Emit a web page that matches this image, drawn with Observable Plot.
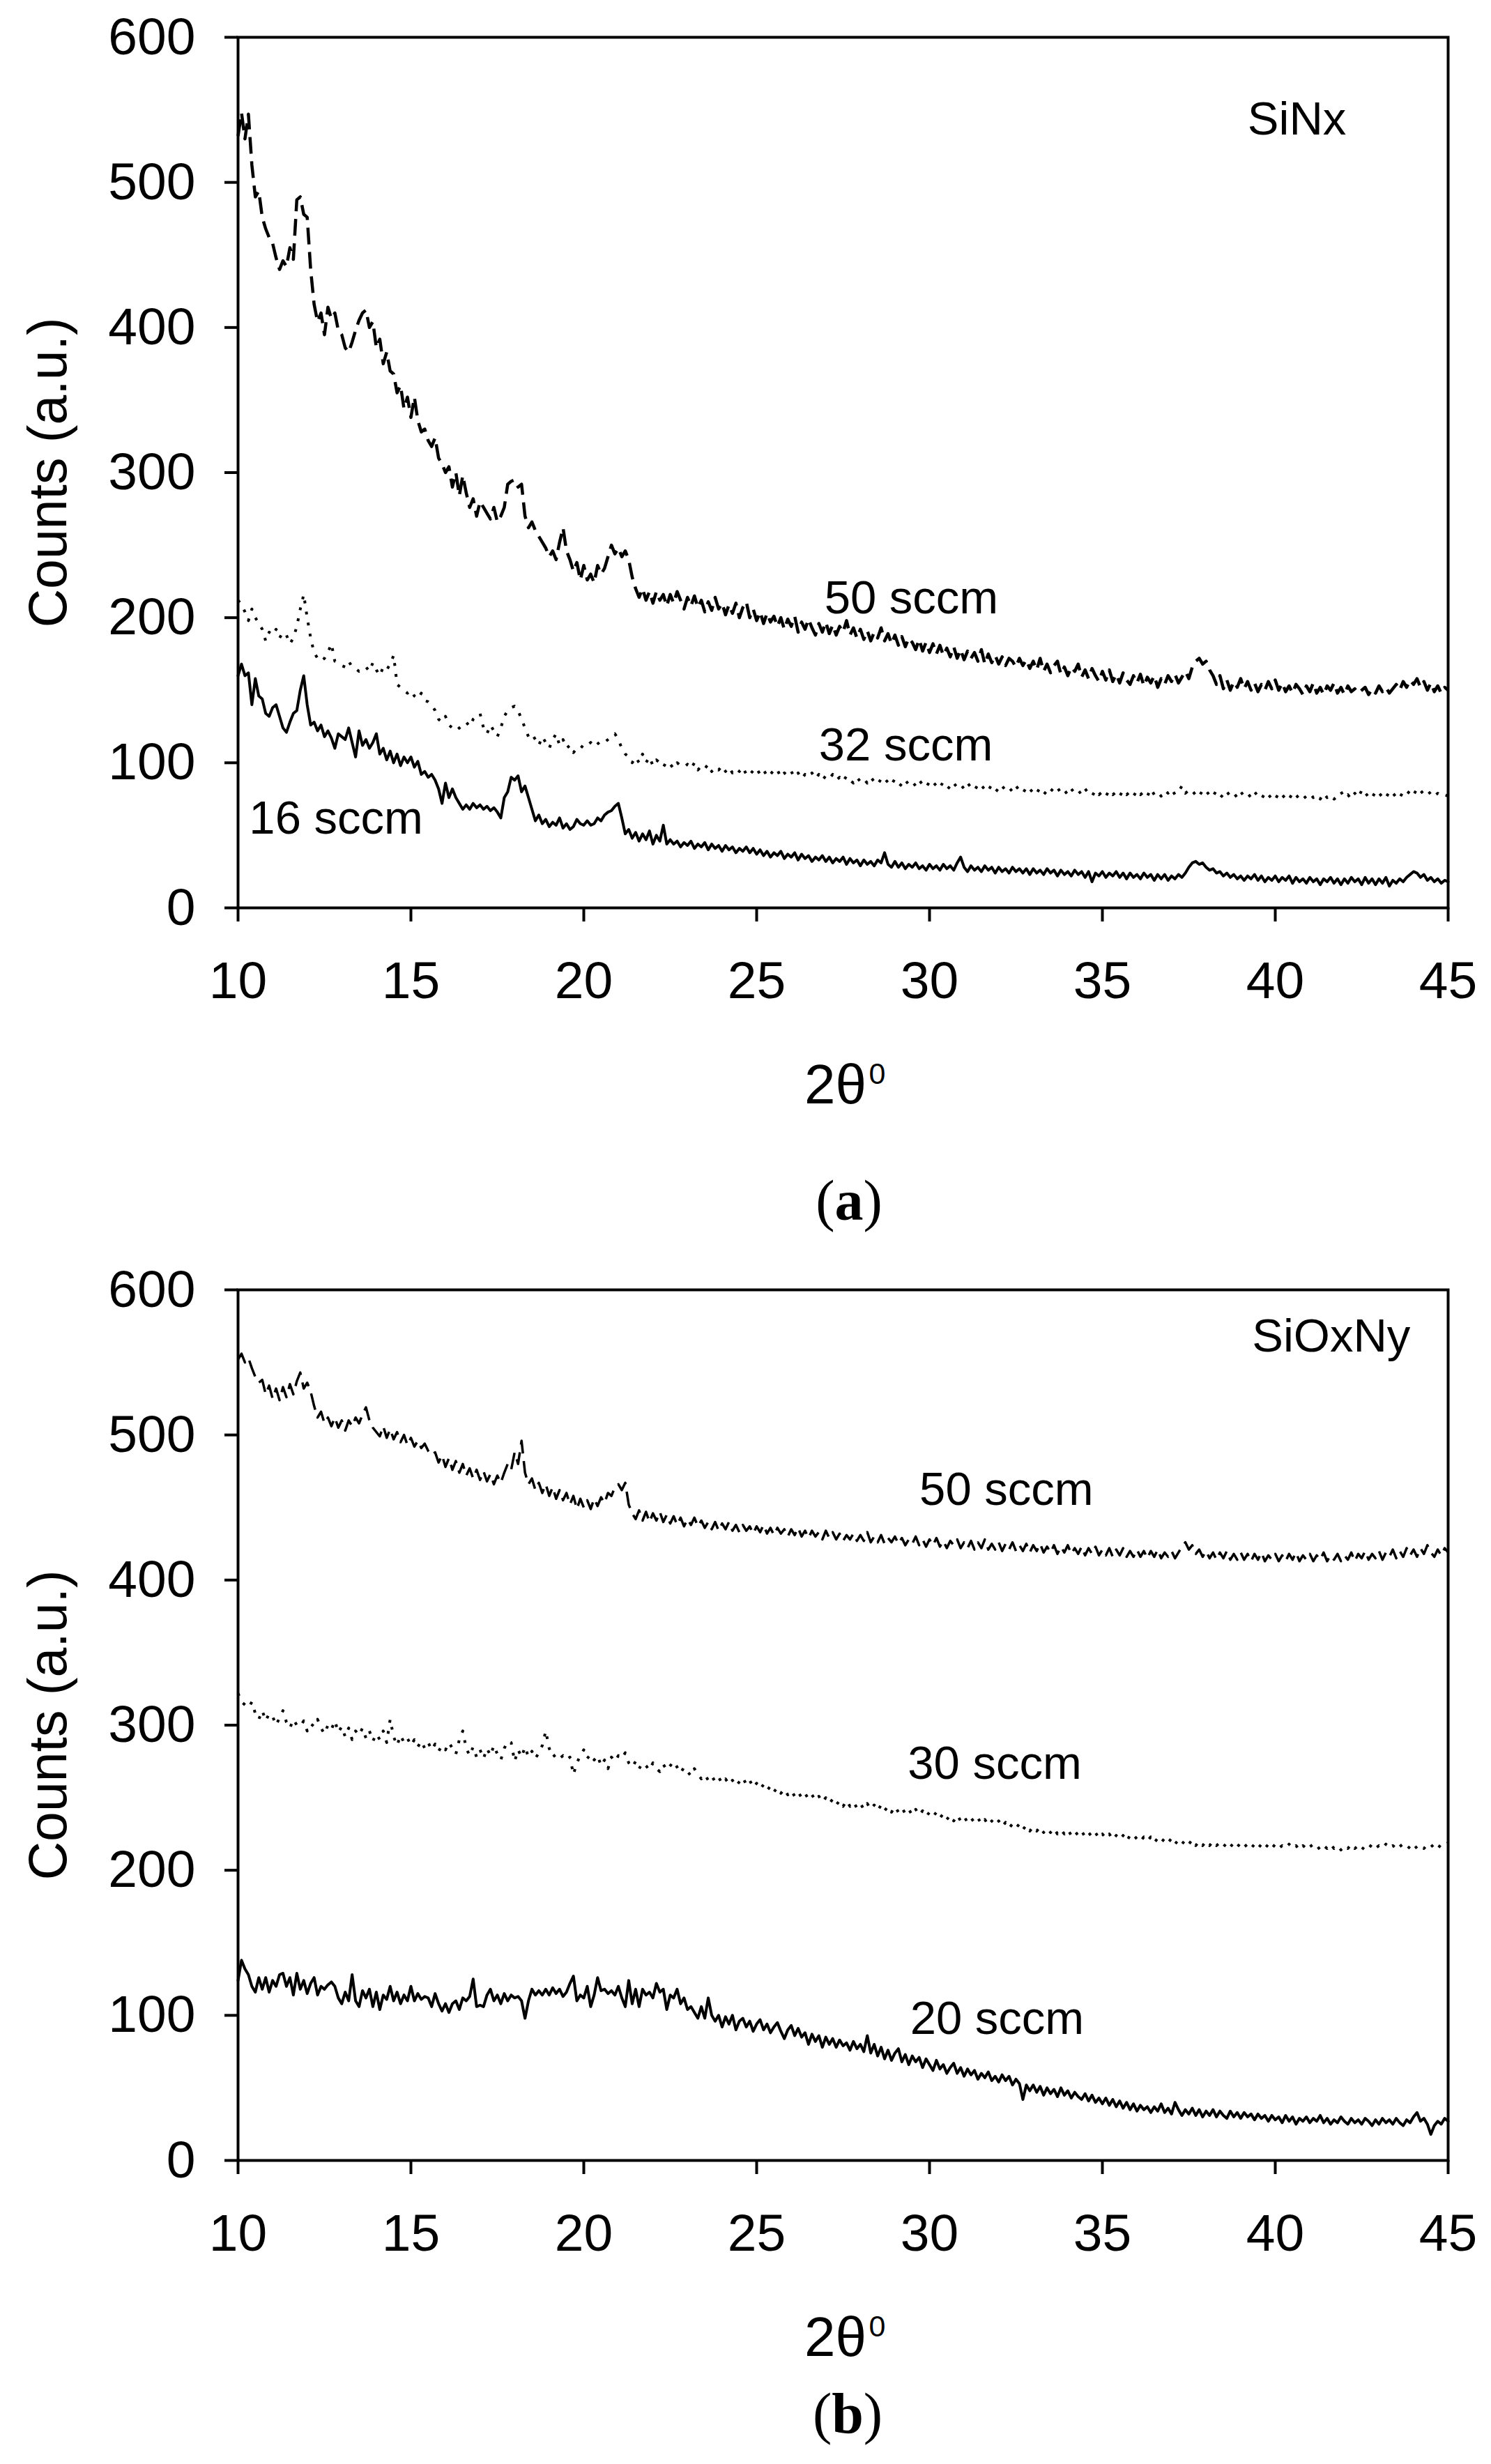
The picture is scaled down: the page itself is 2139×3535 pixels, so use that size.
<!DOCTYPE html>
<html><head><meta charset="utf-8">
<script src="https://cdn.jsdelivr.net/npm/d3@7"></script>
<script src="https://cdn.jsdelivr.net/npm/@observablehq/plot@0.6"></script>
<style>
body{margin:0;background:#fff;}
#page{position:relative;width:2139px;height:3535px;background:#fff;overflow:hidden;}
.panel{position:absolute;left:0;width:2139px;}
.cap{position:absolute;width:400px;text-align:center;font-family:"Liberation Serif","Times New Roman",serif;font-size:82px;line-height:82px;color:#000;}
</style></head>
<body><div id="page"><div id="pa" class="panel" style="top:0px"></div><div id="pb" class="panel" style="top:1797px"></div>
<div class="cap" style="left:1018px;top:1682px">(<b>a</b>)</div>
<div class="cap" style="left:1016px;top:3422px">(<b>b</b>)</div></div>
<script>
// 2θ grid: 10.0 .. 45.0 in 0.1 steps
const xStart = 10, xStep = 0.1;
const xTicks = [10, 15, 20, 25, 30, 35, 40, 45];
const yTicks = [0, 100, 200, 300, 400, 500, 600];

// Panel (a) SiNx
const a50 = [
532,548,530,547,512,490,494,476,468,462,
458,448,440,446,442,455,447,488,490,478,
476,440,416,404,410,395,414,406,410,398,
395,386,383,390,398,405,410,412,400,404,
386,392,375,383,370,368,355,360,344,352,
338,352,336,328,330,322,318,324,310,306,
300,304,290,300,284,298,286,276,282,270,
280,276,272,268,276,266,270,276,292,294,
295,290,292,270,262,266,260,256,252,248,
242,246,240,252,262,246,240,232,238,226,
236,226,230,224,236,230,234,242,250,244,
248,242,246,240,228,220,214,220,212,218,
210,218,212,216,208,216,210,218,212,206,
214,208,215,207,212,204,211,205,214,206,
210,202,209,203,210,200,207,211,200,206,
198,204,196,203,197,201,194,200,192,199,
194,201,190,197,192,199,193,188,196,190,
197,189,195,188,194,190,198,188,193,186,
192,185,191,184,190,186,193,184,189,182,
188,181,187,180,186,183,178,185,177,183,
176,182,175,181,174,179,173,180,172,178,
171,177,172,176,170,178,168,175,169,174,
168,173,167,172,170,166,172,167,171,165,
170,164,172,163,168,162,167,170,161,166,
160,166,163,168,159,164,158,165,160,156,
163,157,164,156,161,155,162,157,154,160,
155,161,153,159,155,160,152,158,154,160,
156,161,155,159,163,158,166,170,172,168,
170,164,160,154,160,151,157,150,156,152,
158,151,156,150,155,149,154,150,156,151,
157,150,155,149,153,148,154,151,147,153,
149,155,148,152,147,153,150,155,148,152,
147,153,149,151,148,150,152,147,151,148,
153,149,152,148,151,154,150,156,152,157,
154,158,152,156,150,155,149,153,148,152,
150];
const a32 = [
212,209,204,198,206,200,196,192,184,190,
188,192,186,190,188,182,186,194,206,216,
200,186,176,172,170,172,176,182,170,169,
167,166,170,166,165,163,164,166,163,169,
164,160,166,164,168,174,154,152,150,148,
150,146,144,148,143,142,140,136,130,128,
132,126,124,122,124,126,128,125,130,132,
134,124,120,126,122,118,124,132,136,138,
139,136,130,124,118,120,116,112,118,114,
110,116,120,112,116,110,112,107,110,112,
110,112,114,111,113,115,114,116,118,120,
116,110,106,104,100,104,100,106,100,104,
98,102,100,97,101,99,96,100,98,97,
99,96,100,95,98,96,99,94,97,95,
98,94,97,93,96,94,97,92,95,93,
96,92,95,91,94,92,95,90,93,91,
94,90,93,89,92,90,93,89,92,88,
91,89,92,88,90,87,91,88,86,90,
87,89,86,90,87,85,89,86,88,85,
89,86,84,88,85,87,84,88,85,83,
87,84,86,83,87,84,82,86,83,85,
82,86,83,81,85,82,84,81,85,82,
80,84,81,83,80,84,81,79,83,80,
82,79,83,80,78,82,80,83,79,81,
78,82,79,81,78,82,79,77,81,78,
80,77,81,78,80,77,81,78,80,77,
81,78,80,77,82,78,80,77,81,79,
82,78,80,84,79,81,78,80,77,81,
78,80,77,81,78,76,80,77,79,76,
80,77,79,76,80,77,75,79,76,78,
75,79,76,78,75,79,76,78,75,77,
79,76,78,75,79,76,78,75,77,80,
76,78,75,79,76,81,77,79,76,80,
77,79,76,80,77,79,76,80,78,81,
78,82,79,81,78,80,77,79,77,78,
77];
const a16 = [
160,168,160,162,140,158,146,144,134,132,
138,140,132,124,121,128,134,136,150,160,
140,126,128,122,126,118,122,117,110,120,
118,116,124,114,104,122,112,116,110,114,
120,106,110,102,108,100,106,98,104,100,
104,97,101,92,94,90,92,88,82,72,
86,76,82,76,72,68,71,68,72,69,
71,68,70,67,69,66,62,76,80,90,
88,91,80,84,76,68,60,64,58,61,
56,59,57,62,55,58,54,56,61,58,
57,60,57,58,62,60,64,66,67,70,
72,62,51,54,48,52,46,51,47,53,
44,50,46,57,44,47,44,46,42,45,
43,46,41,44,42,45,40,44,41,43,
39,43,40,42,38,41,39,42,38,41,
37,40,36,39,35,38,36,39,34,37,
35,38,33,37,34,36,32,35,33,36,
32,35,31,34,32,35,30,34,31,33,
29,33,30,32,29,33,31,38,30,28,
32,28,31,27,30,28,31,27,29,26,
30,27,29,26,30,27,29,26,31,35,
28,25,29,26,28,25,29,26,28,24,
28,25,27,24,28,25,27,24,27,23,
27,24,26,23,27,24,26,22,26,23,
25,22,26,23,25,21,25,18,24,22,
25,21,24,22,25,21,24,20,24,21,
23,20,24,21,23,19,23,20,23,19,
22,20,23,21,24,28,31,32,30,31,
28,26,27,24,25,22,24,21,23,20,
22,19,22,20,23,19,22,18,21,19,
22,18,21,19,22,17,21,18,20,17,
21,18,20,16,20,18,21,17,20,16,
20,17,21,18,20,16,21,17,20,16,
20,17,21,15,19,17,20,18,21,23,
25,24,21,23,19,21,18,20,17,19,
18];

// Panel (b) SiOxNy
const b50 = [
552,556,550,553,546,540,536,538,528,534,
525,532,524,533,526,535,528,537,543,532,
536,530,520,512,516,508,512,506,512,505,
510,503,510,506,512,508,514,519,510,505,
502,499,506,498,504,497,502,495,500,493,
498,492,496,491,494,489,486,488,481,486,
478,484,476,482,474,480,472,477,470,476,
469,475,468,473,466,472,467,474,480,476,
488,480,496,474,466,470,462,467,460,466,
458,464,456,462,455,460,452,458,449,456,
450,455,449,456,451,457,453,460,458,464,
466,462,467,452,446,442,448,441,447,440,
446,441,447,440,445,439,444,438,443,437,
442,438,443,437,441,436,440,435,440,434,
439,435,440,434,438,433,438,434,437,432,
437,433,438,432,436,431,436,432,435,430,
435,431,436,430,434,429,434,430,433,428,
434,429,433,428,432,427,431,428,432,427,
431,427,433,426,430,426,431,425,429,426,
430,425,429,424,428,425,430,424,428,423,
428,424,429,423,427,422,427,424,428,422,
426,422,427,421,426,422,428,421,425,421,
426,420,425,421,426,420,424,420,425,419,
424,420,425,419,423,419,424,418,423,419,
424,418,422,418,423,417,422,418,423,417,
421,417,422,416,421,417,422,416,420,416,
421,416,420,415,420,416,421,415,419,416,
420,415,419,423,426,421,424,418,421,416,
420,415,419,414,419,415,420,414,418,414,
419,414,418,413,418,414,419,413,417,414,
418,413,417,413,418,414,419,413,417,414,
418,413,417,414,419,413,417,414,418,413,
417,414,419,413,418,415,420,414,418,415,
420,414,419,416,421,415,420,416,422,417,
421,416,422,418,424,419,416,421,417,422,
419];
const b30 = [
322,316,314,312,316,308,304,310,303,308,
306,300,305,310,302,298,304,300,299,303,
296,301,299,304,298,294,300,297,303,295,
299,292,298,290,296,293,298,291,296,289,
294,290,296,288,304,292,286,293,288,291,
286,290,285,289,284,288,283,287,282,286,
283,288,284,280,290,296,284,279,285,278,
283,277,284,279,286,280,276,284,289,288,
275,283,278,285,278,282,277,281,286,296,
284,278,280,277,279,276,278,266,274,279,
283,277,280,276,279,272,276,270,278,275,
279,277,281,274,271,275,270,274,272,269,
274,270,268,273,269,272,275,271,267,271,
268,265,270,266,263,266,262,265,261,264,
260,263,259,262,258,261,264,259,262,257,
260,256,259,255,258,254,257,253,256,252,
255,251,254,250,253,249,252,248,251,247,
250,246,249,245,248,244,248,244,247,243,
246,242,246,242,245,241,245,241,244,240,
244,240,243,239,242,238,242,238,241,237,
240,237,240,236,239,235,238,234,238,234,
237,233,236,233,236,232,235,231,234,231,
234,230,233,229,232,229,232,228,231,227,
230,227,230,226,229,226,229,225,228,225,
228,224,227,224,227,223,226,223,226,222,
225,222,225,221,224,221,224,220,224,221,
223,220,223,220,223,219,222,219,222,219,
222,218,221,218,221,218,221,217,220,217,
220,217,220,217,219,216,219,216,219,216,
219,216,218,215,218,215,218,215,218,215,
218,215,217,215,218,215,217,214,217,215,
218,215,217,214,217,215,218,215,217,214,
217,215,218,215,217,214,217,215,218,215,
217,215,218,215,217,215,218,215,217,215,
218,215,217,215,218,216,218,215,218,217,
219];
const b20 = [
124,138,132,128,120,116,126,118,126,116,
124,120,128,129,120,126,114,129,118,124,
115,122,126,114,120,118,121,123,120,112,
108,116,110,128,110,106,117,112,118,106,
116,104,114,111,120,110,116,108,114,110,
120,110,115,111,113,112,106,115,108,103,
108,102,108,110,104,112,110,113,125,106,
107,106,114,118,110,114,108,115,110,114,
112,113,110,98,110,118,114,117,114,118,
114,119,115,118,113,116,122,127,110,114,
112,120,106,114,126,117,118,115,117,114,
120,112,106,124,108,118,106,118,114,116,
112,122,116,118,104,114,112,118,108,112,
104,106,102,98,106,98,112,100,96,100,
92,99,94,100,90,96,98,92,96,89,
94,97,90,94,88,92,95,89,84,90,
93,86,91,85,88,80,87,82,86,78,
85,80,84,78,83,79,81,76,82,77,
80,75,86,74,80,72,78,70,76,69,
74,77,68,73,66,72,68,71,64,70,
66,62,69,63,66,60,64,67,60,64,
58,63,59,62,56,60,57,61,55,58,
54,59,55,58,52,56,53,42,52,48,
52,47,51,45,50,46,49,44,50,45,
48,43,47,44,42,46,41,45,40,43,
39,43,38,42,37,41,36,40,35,39,
34,38,35,37,33,37,34,39,33,36,
32,40,35,31,35,32,36,31,35,30,
34,31,35,30,34,31,29,34,30,33,
29,33,30,32,28,32,29,31,27,31,
28,30,26,31,27,30,25,29,27,30,
26,29,27,31,26,29,25,28,26,30,
27,25,29,26,28,25,29,27,24,28,
25,29,26,28,25,29,26,24,28,26,
30,33,27,29,25,18,24,27,25,29,
27];

// annotations
const labelsA = [
  {x: 39.2, y: 533, text: "SiNx"},
  {x: 26.96, y: 203, text: "50 sccm"},
  {x: 26.8, y: 101.5, text: "32 sccm"},
  {x: 10.32, y: 51.4, text: "16 sccm"}
];
const labelsB = [
  {x: 39.33, y: 557.7, text: "SiOxNy"},
  {x: 29.71, y: 451.6, text: "50 sccm"},
  {x: 29.37, y: 262.8, text: "30 sccm"},
  {x: 29.44, y: 87, text: "20 sccm"}
];

const rows = (vals) => vals.map((y, i) => ({x: xStart + i * xStep, y}));

function panel(dash, dot, solid, labels, dashW) {
  return Plot.plot({
    width: 2139, height: 1620,
    marginTop: 53, marginBottom: 318, marginLeft: 341, marginRight: 62,
    x: {type: "linear", domain: [10, 45]},
    y: {type: "linear", domain: [0, 600]},
    style: {fontFamily: "'Liberation Sans', Arial, sans-serif", color: "#000", background: "transparent", overflow: "visible"},
    marks: [
      Plot.line(rows(dash), {x: "x", y: "y", stroke: "#000", strokeWidth: dashW, strokeDasharray: "24,11", strokeLinecap: "butt", strokeLinejoin: "round"}),
      Plot.line(rows(dot), {x: "x", y: "y", stroke: "#000", strokeWidth: 4, strokeDasharray: "4,12", strokeLinecap: "butt"}),
      Plot.line(rows(solid), {x: "x", y: "y", stroke: "#000", strokeWidth: 4}),
      Plot.frame({stroke: "#000", strokeWidth: 4}),
      Plot.axisX({ticks: xTicks, tickSize: 20, tickPadding: 56, fontSize: 75, strokeWidth: 4, label: null, tickFormat: d => String(d)}),
      Plot.axisY({ticks: yTicks, tickSize: 19, tickPadding: 42, fontSize: 75, strokeWidth: 4, label: null, tickFormat: d => String(d)}),
      Plot.text(labels, {x: "x", y: "y", text: "text", textAnchor: "start", lineAnchor: "bottom", fontSize: 67, fill: "#000"}),
      Plot.text(["Counts (a.u.)"], {text: d => d, frameAnchor: "left", dx: -271, rotate: -90, fontSize: 77, textAnchor: "middle", lineAnchor: "middle", fill: "#000"}),
      Plot.text(["2θ"], {text: d => d, frameAnchor: "bottom", dy: 280, dx: -11, fontSize: 80, textAnchor: "middle", lineAnchor: "bottom", fill: "#000"}),
      Plot.text(["0"], {text: d => d, frameAnchor: "bottom", dy: 252, dx: 37, fontSize: 43, textAnchor: "start", lineAnchor: "bottom", fill: "#000"})
    ]
  });
}

document.getElementById("pa").append(panel(a50, a32, a16, labelsA, 4.5));
document.getElementById("pb").append(panel(b50, b30, b20, labelsB, 3.5));
</script>
</body></html>
